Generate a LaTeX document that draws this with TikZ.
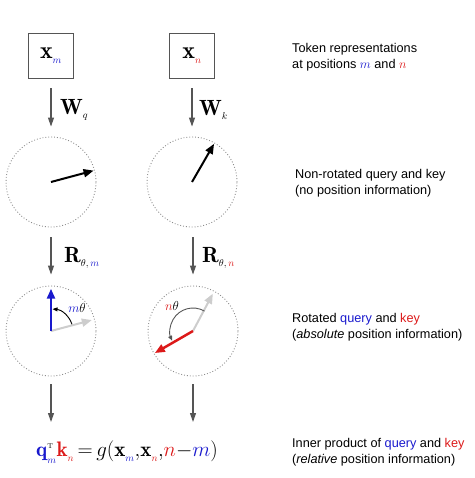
\RequirePackage{fix-cm}
\documentclass[tikz,border=0pt]{standalone}
\usepackage{amsmath}
\usepackage{fontspec}
\usepackage{tikz}
\usetikzlibrary{arrows.meta, positioning, calc}
\newfontfamily\capfont{Liberation Sans}
\definecolor{qblue}{RGB}{25,25,205}
\definecolor{kred}{RGB}{220,25,25}
\definecolor{arrgray}{RGB}{85,85,85}
\definecolor{ringgray}{RGB}{140,140,140}
\definecolor{oldvec}{RGB}{205,205,205}
\newcommand{\idx}[2]{\mbox{\raisebox{-1.5pt}{\fontsize{10}{10}\selectfont\color{#1}$#2$}}}

\begin{document}
\begin{tikzpicture}[x=1pt, y=1pt,
    tokbox/.style={rectangle, draw=arrgray, line width=1.2pt, minimum size=45pt, inner sep=0pt, font=\fontsize{24}{24}\selectfont},
    ring/.style={circle, draw=ringgray, dotted, line width=0.9pt, minimum size=90pt, inner sep=0pt},
    flow/.style={-{Triangle[length=9pt,width=6pt]}, arrgray, line width=1.1pt},
    vec/.style={-{Triangle[length=10pt,width=8pt]}, line width=2pt},
    turn/.style={-{Triangle[length=5pt,width=4pt]}, line width=0.9pt},
    bigsym/.style={anchor=west, inner sep=0pt, font=\fontsize{22}{24}\selectfont},
    caption/.style={anchor=base west, align=left, inner sep=0pt, font=\capfont\fontsize{12.7}{16}\selectfont}
]
    \useasboundingbox (0,0) rectangle (474,-478);

    % Tokens
    \node[tokbox] (xm) at (51,-56) {$\mathbf{x}_{\idx{qblue}{m}}$};
    \node[tokbox] (xn) at (192,-56) {$\mathbf{x}_{\idx{kred}{n}}$};

    % Circles
    \node[ring] (qa) at (51,-182) {};
    \node[ring] (ka) at (192,-182) {};
    \node[ring] (qr) at (51,-331) {};
    \node[ring] (kr) at (193,-331) {};
    \coordinate (qend) at (51,-422);
    \coordinate (kend) at (193,-422);

    % Main path
    \draw[flow, shorten <=9pt, shorten >=10pt] (xm) -- (qa);
    \draw[flow, shorten <=9pt, shorten >=10pt] (xn) -- (ka);
    \draw[flow, shorten <=10pt, shorten >=11pt] (qa) -- (qr);
    \draw[flow, shorten <=10pt, shorten >=11pt] (ka.south -| kr) -- (kr);
    \draw[flow, shorten <=8pt] (qr) -- (qend);
    \draw[flow, shorten <=8pt] (kr) -- (kend);

    % Projections and rotations
    \node[bigsym] (wq) at (60,-110) {$\mathbf{W}_{\idx{black}{q}}$};
    \node[bigsym] (wk) at (199,-110) {$\mathbf{W}_{\idx{black}{k}}$};
    \node[bigsym] (rm) at (64,-258) {$\mathbf{R}_{\idx{black}{\theta,\textcolor{qblue}{m}}}$};
    \node[bigsym] (rn) at (202,-258) {$\mathbf{R}_{\idx{black}{\theta,\textcolor{kred}{n}}}$};

    % Vectors
    \draw[vec] (qa.center) -- ($(qa.center)!0.97!(qa.15)$);
    \draw[vec] (ka.center) -- ($(ka.center)!0.97!(ka.60)$);
    \draw[vec, oldvec] (qr.center) -- ($(qr.center)!0.93!(qr.15)$);
    \draw[vec, qblue, line width=2.5pt] (qr.center) -- ($(qr.center)!0.93!(qr.90)$);
    \draw[vec, oldvec] (kr.center) -- ($(kr.center)!0.93!(kr.62)$);
    \draw[vec, kred, line width=2.5pt] (kr.center) -- ($(kr.center)!0.97!(kr.210)$);

    % Rotation angles
    \draw[turn] ($(qr.center)+(18:22)$) arc[start angle=18, end angle=86, radius=22];
    \draw[turn, arrgray] ($(kr.center)+(60:23)$) arc[start angle=60, end angle=205, radius=23];
    \node[font=\fontsize{13}{13}\selectfont, inner sep=0pt] (mth) at (77,-308) {$\textcolor{qblue}{m}\theta$};
    \node[font=\fontsize{13}{13}\selectfont, inner sep=0pt] (nth) at (172,-306) {$\textcolor{kred}{n}\theta$};

    % Inner product
    \node[inner sep=0pt, font=\fontsize{21}{24}\selectfont] (prod) at (127,-452)
        {$\mathbf{\color{qblue}q}^{\mbox{\fontsize{7}{7}\selectfont T}}_{\idx{qblue}{m}}\mathbf{\color{kred}k}_{\idx{kred}{n}}\,{=}\,g(\mathbf{x}_{\idx{qblue}{m}}{,}\mathbf{x}_{\idx{kred}{n}}{,}\textcolor{kred}{n}{-}\textcolor{qblue}{m})$};

    % Captions
    \node[caption] (c1) at (292,-69) {Token representations\\at positions $\textcolor{qblue}{m}$ and $\textcolor{kred}{n}$};
    \node[caption] (c2) at (295,-194) {Non-rotated query and key\\(no position information)};
    \node[caption] (c3) at (292,-338) {Rotated \textcolor{qblue}{query} and \textcolor{kred}{key}\\(\textit{absolute} position information)};
    \node[caption] (c4) at (292,-463) {Inner product of \textcolor{qblue}{query} and \textcolor{kred}{key}\\(\textit{relative} position information)};
\end{tikzpicture}
\end{document}
